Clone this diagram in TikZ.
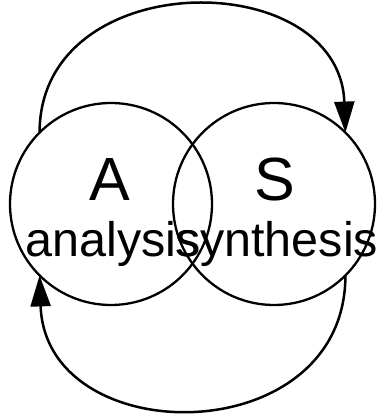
\documentclass[tikz,border=0pt]{standalone}
\usepackage{fontspec}
\setmainfont{Liberation Sans}
\usetikzlibrary{arrows.meta,positioning}

\begin{document}
\begin{tikzpicture}[x=1pt,y=1pt,
  venn/.style={circle,draw=black,line width=2.3pt,minimum size=202pt,inner sep=0pt,outer sep=0pt},
  letter/.style={anchor=base,font=\fontsize{61}{61}\selectfont,inner sep=0pt},
  word/.style={anchor=base,font=\fontsize{48.5}{48.5}\selectfont,inner sep=0pt},
  loop/.style={line width=2.5pt,-{Triangle[length=31pt,width=20pt]}}
]
  \useasboundingbox (0,0) rectangle (382,414);
  \node[venn] (A) at (111,210) {};
  \node[venn] (S) at (274,210) {};
  \node[letter] (Alet) at (110,213) {A};
  \node[letter] (Slet) at (275,213) {S};
  \node[word] (Aword) at (113,157) {analysis};
  \node[word] (Sword) at (277,157) {synthesis};
  \draw[loop] (A.135) .. controls +(0,168) and +(-6,168) .. (S.45);
  \draw[loop] (S.-45) .. controls +(0,-177) and +(6,-177) .. (A.-135);
\end{tikzpicture}
\end{document}
